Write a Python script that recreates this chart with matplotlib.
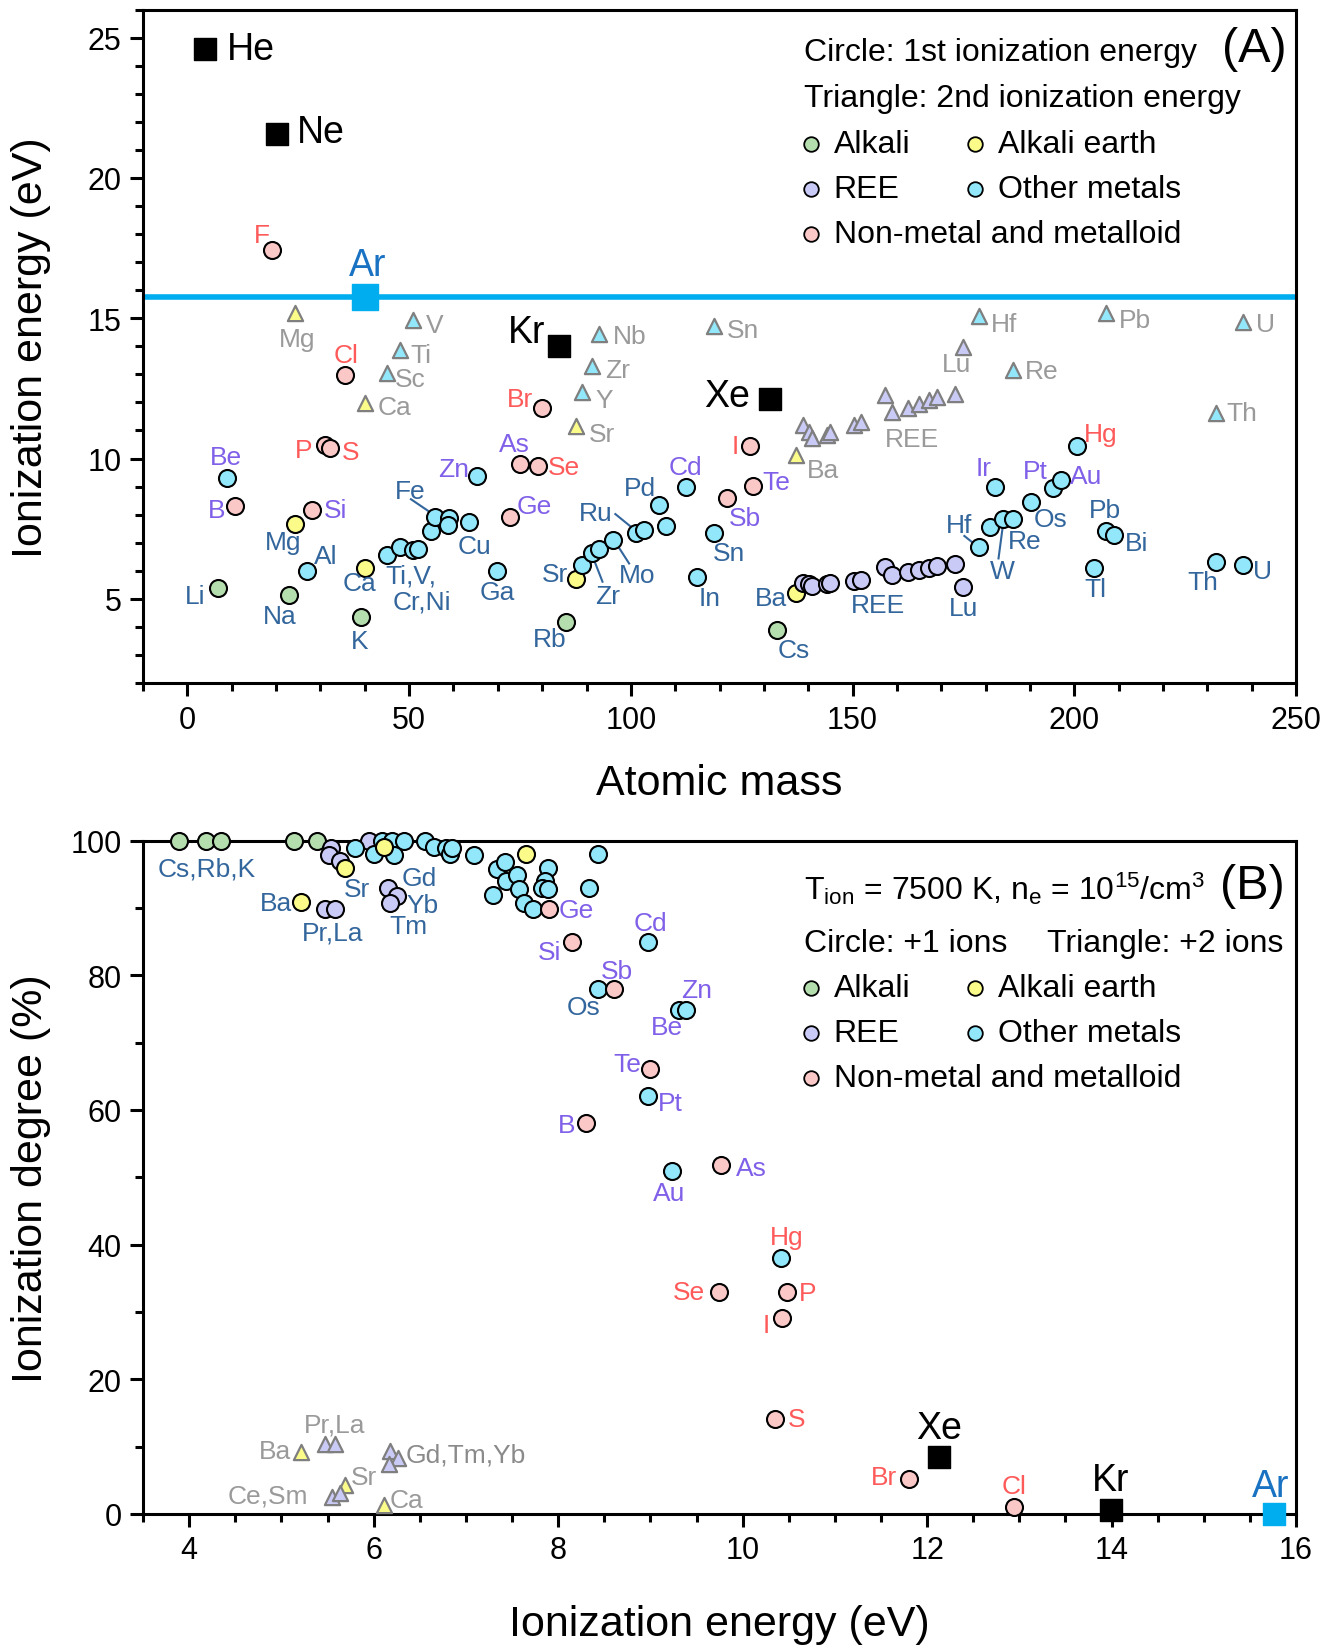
import matplotlib
matplotlib.use('Agg')
import matplotlib.pyplot as plt
from matplotlib.ticker import MultipleLocator

plt.rcParams['font.family'] = ['Liberation Sans', 'DejaVu Sans']
plt.rcParams['mathtext.fontset'] = 'custom'
plt.rcParams['mathtext.rm'] = 'Liberation Sans'
plt.rcParams['mathtext.it'] = 'Liberation Sans'

# ---------------- Panel A data: atomic mass vs ionization energy ----------------
# 1st ionization energy (circles)
a_alk_mass = [6.94, 22.99, 39.10, 85.47, 132.91]
a_alk_ie = [5.39, 5.14, 4.34, 4.18, 3.89]

a_ear_mass = [24.31, 40.08, 87.62, 137.33]
a_ear_ie = [7.65, 6.11, 5.69, 5.21]

a_ree_mass = [138.91, 140.12, 140.91, 144.24, 145.0, 150.36, 151.96, 157.25,
              158.93, 162.50, 164.93, 167.26, 168.93, 173.05, 174.97]
a_ree_ie = [5.58, 5.54, 5.47, 5.53, 5.58, 5.64, 5.67, 6.15,
            5.86, 5.94, 6.02, 6.11, 6.18, 6.25, 5.43]

a_oth_mass = [9.01, 26.98, 44.96, 47.87, 50.94, 52.00, 54.94, 55.85, 58.93, 58.69,
              63.55, 65.38, 69.72, 88.91, 91.22, 92.91, 95.95, 101.07, 102.91, 106.42,
              107.87, 112.41, 114.82, 118.71, 178.49, 180.95, 183.84, 186.21, 190.23,
              182.0, 195.08, 196.97, 200.59, 204.38, 207.2, 208.98, 232.04, 238.03]
a_oth_ie = [9.32, 5.99, 6.56, 6.83, 6.75, 6.77, 7.43, 7.90, 7.88, 7.64,
            7.73, 9.39, 6.00, 6.22, 6.63, 6.76, 7.09, 7.36, 7.46, 8.34,
            7.58, 8.99, 5.79, 7.34, 6.83, 7.55, 7.86, 7.83, 8.44,
            8.97, 8.96, 9.23, 10.44, 6.11, 7.42, 7.29, 6.31, 6.19]

a_non_mass = [10.81, 19.00, 28.09, 30.97, 32.06, 35.45, 72.63, 74.92, 78.97, 79.90,
              121.76, 127.60, 126.90]
a_non_ie = [8.30, 17.42, 8.15, 10.49, 10.36, 12.97, 7.90, 9.79, 9.75, 11.81,
            8.61, 9.01, 10.45]

# 2nd ionization energy (triangles)
a2_ear_mass = [24.31, 40.08, 87.62, 137.33]
a2_ear_ie = [15.19, 11.99, 11.17, 10.11]

a2_ree_mass = a_ree_mass
a2_ree_ie = [11.2, 10.95, 10.73, 10.85, 10.95, 11.2, 11.3, 12.26,
             11.65, 11.8, 11.95, 12.07, 12.18, 12.29, 13.98]

a2_oth_mass = [44.96, 47.87, 50.94, 88.91, 91.22, 92.91, 118.71, 178.49, 186.21,
               207.2, 232.04, 238.03]
a2_oth_ie = [13.05, 13.87, 14.92, 12.37, 13.3, 14.44, 14.74, 15.07, 13.16,
             15.19, 11.62, 14.85]

# noble gases
a_gas_names = ['He', 'Ne', 'Kr', 'Xe']
a_gas_mass = [4.00, 20.18, 83.80, 131.29]
a_gas_ie = [24.59, 21.56, 14.00, 12.13]
ar_mass = 39.95
ar_ie = 15.76

# ---------------- Panel B data: ionization energy vs ionization degree ----------------
b_alk_ie = [3.89, 4.18, 4.34, 5.14, 5.39]
b_alk_deg = [100, 100, 100, 100, 100]

b_ear_ie = [5.21, 5.69, 6.11, 7.65]
b_ear_deg = [90.9, 96.0, 99.0, 98.0]

b_ree_ie = [5.54, 5.52, 5.64, 5.95, 5.47, 5.58, 6.15, 6.25, 6.18]
b_ree_deg = [98.9, 97.8, 97.0, 100, 89.9, 89.9, 92.9, 91.8, 90.8]

b_oth_ie = [5.80, 6.00, 6.09, 6.20, 6.33, 6.22, 6.56, 6.65, 6.78, 6.83, 6.85, 7.09,
            7.34, 7.42, 7.44, 7.55, 7.58, 7.29, 7.63, 7.73, 7.89, 7.86, 7.82, 7.89,
            8.43, 8.33, 8.97, 8.43, 9.31, 9.39, 8.97, 9.23, 10.42]
b_oth_deg = [98.9, 98.0, 100, 100, 100, 97.8, 100, 99.0, 98.9, 98.0, 98.9, 97.9,
             95.8, 96.9, 94.0, 94.9, 92.8, 92.0, 90.8, 89.8, 96.0, 94.0, 93.0, 92.8,
             98.0, 93.0, 84.9, 77.9, 74.9, 74.9, 62.0, 50.9, 38.0]

b_non_ie = [7.90, 8.15, 8.61, 9.00, 8.30, 9.77, 9.74, 10.48, 10.43, 10.35, 11.80, 12.94]
b_non_deg = [89.8, 84.9, 77.9, 66.1, 58.0, 51.9, 33.0, 33.0, 29.1, 14.1, 5.2, 1.1]

# +2 ions (triangles)
b2_ear_ie = [5.21, 5.69, 6.11]
b2_ear_deg = [9.2, 4.3, 1.3]
b2_ree_ie = [5.47, 5.58, 6.18, 6.26, 6.17, 5.55, 5.64]
b2_ree_deg = [10.4, 10.4, 9.4, 8.3, 7.4, 2.5, 3.1]

# noble gases
b_gas_ie = [12.13, 13.99]
b_gas_deg = [8.4, 0.6]
b_ar_ie = 15.76
b_ar_deg = 0.0

# ---------------- colours ----------------
C_ALK = '#b5deaf'
C_EAR = '#fbfb8a'
C_REE = '#cacaf7'
C_OTH = '#92e7fb'
C_NON = '#fbc8c8'
L_BLUE = '#33669c'
L_PURP = '#8060e8'
L_RED = '#ff5a5a'
L_GREY = '#9a9a9a'
AR_LINE = '#00aeef'
AR_TEXT = '#1a72c2'

# ---------------- labels (text, x, y, colour) ----------------
labels_A = [
    ('F', 16.8, 17.97, L_RED), ('Cl', 35.8, 13.68, L_RED), ('P', 26.3, 10.30, L_RED),
    ('S', 36.8, 10.23, L_RED), ('Br', 75.0, 12.11, L_RED), ('As', 73.8, 10.53, L_PURP),
    ('Se', 85.0, 9.70, L_RED), ('I', 123.6, 10.45, L_RED), ('Hg', 206.0, 10.86, L_RED),
    ('Be', 8.8, 10.04, L_PURP), ('B', 6.6, 8.16, L_PURP), ('Si', 33.5, 8.16, L_PURP),
    ('Mg', 21.6, 7.03, L_BLUE), ('Al', 31.1, 6.54, L_BLUE), ('Li', 1.7, 5.11, L_BLUE),
    ('Na', 20.9, 4.40, L_BLUE), ('K', 38.9, 3.50, L_BLUE), ('Ca', 38.7, 5.56, L_BLUE),
    ('Ti,V,', 50.5, 5.83, L_BLUE), ('Cr,Ni', 52.9, 4.92, L_BLUE), ('Fe', 50.3, 8.83, L_BLUE),
    ('Zn', 60.0, 9.62, L_PURP), ('Cu', 64.8, 6.88, L_BLUE), ('Ga', 69.8, 5.26, L_BLUE),
    ('Ge', 78.1, 8.31, L_PURP), ('Rb', 81.6, 3.57, L_BLUE), ('Sr', 82.8, 5.90, L_BLUE),
    ('Zr', 94.7, 5.11, L_BLUE), ('Mo', 101.3, 5.86, L_BLUE), ('Ru', 92.1, 8.05, L_BLUE),
    ('Pd', 102.0, 8.95, L_BLUE), ('Cd', 112.2, 9.70, L_PURP), ('Sn', 122.2, 6.62, L_BLUE),
    ('In', 117.7, 5.04, L_BLUE), ('Sb', 125.8, 7.89, L_PURP), ('Te', 132.7, 9.17, L_PURP),
    ('Ba', 131.5, 5.04, L_BLUE), ('Cs', 136.7, 3.16, L_BLUE), ('REE', 155.7, 4.77, L_BLUE),
    ('Lu', 175.1, 4.66, L_BLUE), ('Hf', 173.9, 7.63, L_BLUE), ('W', 183.7, 5.98, L_BLUE),
    ('Re', 188.7, 7.07, L_BLUE), ('Os', 194.6, 7.86, L_BLUE), ('Ir', 179.6, 9.66, L_PURP),
    ('Pt', 191.3, 9.55, L_PURP), ('Au', 202.7, 9.36, L_PURP), ('Pb', 206.9, 8.16, L_BLUE),
    ('Bi', 214.0, 6.99, L_BLUE), ('Tl', 204.8, 5.34, L_BLUE), ('Th', 229.0, 5.60, L_BLUE),
    ('U', 242.5, 5.98, L_BLUE),
    # 2nd ionization labels
    ('Mg', 24.7, 14.25, L_GREY), ('V', 55.8, 14.77, L_GREY), ('Ti', 52.7, 13.68, L_GREY),
    ('Sc', 50.3, 12.82, L_GREY), ('Ca', 46.7, 11.84, L_GREY), ('Nb', 99.7, 14.36, L_GREY),
    ('Zr', 97.1, 13.16, L_GREY), ('Y', 94.0, 12.07, L_GREY), ('Sr', 93.5, 10.86, L_GREY),
    ('Sn', 125.3, 14.59, L_GREY), ('Ba', 143.3, 9.59, L_GREY), ('REE', 163.3, 10.68, L_GREY),
    ('Lu', 173.5, 13.38, L_GREY), ('Hf', 184.1, 14.81, L_GREY), ('Re', 192.7, 13.12, L_GREY),
    ('Pb', 213.6, 14.92, L_GREY), ('U', 243.0, 14.81, L_GREY), ('Th', 237.8, 11.62, L_GREY),
]
big_labels_A = [('He', 14.2, 24.59), ('Ne', 30.1, 21.62), ('Kr', 76.4, 14.51), ('Xe', 121.7, 12.22)]
ar_label_A = ('Ar', 40.6, 16.88)

leaders_A = [  # (x0, x1, y0, y1)
    (50.4, 54.5, 8.55, 8.11), (91.7, 93.6, 6.38, 5.61), (97.2, 99.6, 6.85, 6.26),
    (96.5, 100.0, 8.02, 7.57), (175.2, 177.1, 7.24, 7.0), (182.9, 183.8, 6.44, 7.51),
]

labels_B = [
    ('Cs,Rb,K', 4.19, 95.9, L_BLUE), ('Ba', 4.94, 90.8, L_BLUE), ('Sr', 5.82, 92.8, L_BLUE),
    ('Pr,La', 5.55, 86.4, L_BLUE), ('Gd', 6.49, 94.4, L_BLUE), ('Yb', 6.53, 90.5, L_BLUE),
    ('Tm', 6.38, 87.3, L_BLUE), ('Ge', 8.20, 89.7, L_PURP), ('Si', 7.91, 83.4, L_PURP),
    ('Cd', 9.0, 87.8, L_PURP), ('Sb', 8.64, 80.6, L_PURP), ('Os', 8.28, 75.3, L_BLUE),
    ('Zn', 9.50, 77.8, L_PURP), ('Be', 9.18, 72.3, L_PURP), ('Te', 8.75, 66.9, L_PURP),
    ('Pt', 9.22, 61.1, L_PURP), ('B', 8.09, 57.7, L_PURP), ('As', 10.10, 51.4, L_PURP),
    ('Au', 9.20, 47.7, L_PURP), ('Hg', 10.48, 41.1, L_RED), ('Se', 9.42, 33.0, L_RED),
    ('P', 10.70, 32.8, L_RED), ('I', 10.26, 28.0, L_RED), ('S', 10.59, 14.1, L_RED),
    ('Br', 11.53, 5.5, L_RED), ('Cl', 12.94, 4.2, L_RED),
    ('Pr,La', 5.58, 13.3, L_GREY), ('Ba', 4.93, 9.4, L_GREY), ('Sr', 5.89, 5.5, L_GREY),
    ('Ce,Sm', 4.85, 2.7, L_GREY), ('Ca', 6.36, 2.0, L_GREY),
]
big_labels_B = [('Xe', 12.13, 12.8), ('Kr', 13.99, 5.0)]
ar_label_B = ('Ar', 15.72, 4.2)

# ---------------- figure ----------------
fig = plt.figure(figsize=(13.37, 16.49), dpi=100)
axA = fig.add_axes([0.1070, 0.5852, 0.8624, 0.4084])
axB = fig.add_axes([0.1070, 0.0813, 0.8624, 0.4083])

CS = 150      # circle marker area
TS = 120      # triangle marker area
LFS = 19      # element label font size
BFS = 27      # noble gas label font size
GFS = 23      # legend font size


def style(ax):
    for sp in ax.spines.values():
        sp.set_linewidth(2.2)
        sp.set_zorder(2)
    ax.tick_params(which='major', direction='out', length=9.5, width=2.2,
                   labelsize=22, pad=6)
    ax.tick_params(which='minor', direction='out', length=6, width=2.2)


def circ(ax, x, y, c):
    ax.scatter(x, y, s=CS, c=c, edgecolors='black', linewidths=1.5, zorder=4, clip_on=False)


def tri(ax, x, y, c):
    ax.scatter(x, y, s=TS, marker='^', c=c, edgecolors='#7f7f7f', linewidths=1.6,
               zorder=3, clip_on=False)


def axis_labels(ax, xl, yl, xlab_y):
    ax.set_xlabel(xl, fontsize=31)
    ax.set_ylabel(yl, fontsize=31)
    ax.xaxis.set_label_coords(0.5, xlab_y)
    ax.xaxis.label.set_verticalalignment('center')
    ax.yaxis.set_label_coords(-0.097, 0.5)
    ax.yaxis.label.set_verticalalignment('center')


# ----- Panel A -----
style(axA)
axA.set_xlim(-10, 250)
axA.set_ylim(2, 26)
axA.xaxis.set_major_locator(MultipleLocator(50))
axA.xaxis.set_minor_locator(MultipleLocator(10))
axA.yaxis.set_major_locator(MultipleLocator(5))
axA.yaxis.set_minor_locator(MultipleLocator(1))
axis_labels(axA, 'Atomic mass', 'Ionization energy (eV)', -0.148)

axA.axhline(ar_ie, color=AR_LINE, lw=4, zorder=2)
tri(axA, a2_ear_mass, a2_ear_ie, C_EAR)
tri(axA, a2_ree_mass, a2_ree_ie, C_REE)
tri(axA, a2_oth_mass, a2_oth_ie, C_OTH)
circ(axA, a_alk_mass, a_alk_ie, C_ALK)
circ(axA, a_ear_mass, a_ear_ie, C_EAR)
circ(axA, a_ree_mass, a_ree_ie, C_REE)
circ(axA, a_oth_mass, a_oth_ie, C_OTH)
circ(axA, a_non_mass, a_non_ie, C_NON)
axA.scatter(a_gas_mass, a_gas_ie, s=230, marker='s', c='black', zorder=4)
axA.scatter([ar_mass], [ar_ie], s=350, marker='s', c=AR_LINE, zorder=5)

for t, x, y, c in labels_A:
    axA.text(x, y, t, color=c, fontsize=LFS, ha='center', va='center', zorder=6)
for t, x, y in big_labels_A:
    axA.text(x, y, t, color='black', fontsize=BFS, ha='center', va='center', zorder=6)
axA.text(ar_label_A[1], ar_label_A[2], ar_label_A[0], color=AR_TEXT, fontsize=BFS,
         ha='center', va='center', zorder=6)
for x0, x1, y0, y1 in leaders_A:
    axA.plot([x0, x1], [y0, y1], color=L_BLUE, lw=1.5, zorder=3)

# legend A
tA = axA.transAxes
axA.text(0.573, 0.9375, 'Circle: 1st ionization energy', transform=tA, fontsize=GFS,
         ha='left', va='center')
axA.text(0.9636, 0.942, '(A)', transform=tA, fontsize=35, ha='center', va='center')
axA.text(0.573, 0.8687, 'Triangle: 2nd ionization energy', transform=tA, fontsize=GFS,
         ha='left', va='center')
leg_items_A = [(0.5794, 0.800, C_ALK, 'Alkali'), (0.7218, 0.800, C_EAR, 'Alkali earth'),
               (0.5794, 0.733, C_REE, 'REE'), (0.7218, 0.733, C_OTH, 'Other metals'),
               (0.5794, 0.666, C_NON, 'Non-metal and metalloid')]
for x, y, c, t in leg_items_A:
    axA.scatter([x], [y], s=110, c=c, edgecolors='black', linewidths=1.3, transform=tA,
                zorder=6, clip_on=False)
    axA.text(x + 0.0195, y, t, transform=tA, fontsize=GFS, ha='left', va='center')

# ----- Panel B -----
style(axB)
axB.set_xlim(3.5, 16)
axB.set_ylim(0, 100)
axB.xaxis.set_major_locator(MultipleLocator(2))
axB.xaxis.set_minor_locator(MultipleLocator(0.5))
axB.yaxis.set_major_locator(MultipleLocator(20))
axB.yaxis.set_minor_locator(MultipleLocator(10))
axis_labels(axB, 'Ionization energy (eV)', 'Ionization degree (%)', -0.164)

tri(axB, b2_ear_ie, b2_ear_deg, C_EAR)
tri(axB, b2_ree_ie, b2_ree_deg, C_REE)
circ(axB, b_alk_ie, b_alk_deg, C_ALK)
circ(axB, b_ree_ie, b_ree_deg, C_REE)
circ(axB, b_oth_ie, b_oth_deg, C_OTH)
circ(axB, b_ear_ie, b_ear_deg, C_EAR)
circ(axB, b_non_ie, b_non_deg, C_NON)
axB.scatter(b_gas_ie, b_gas_deg, s=250, marker='s', c='black', zorder=5, clip_on=False)
axB.scatter([b_ar_ie], [b_ar_deg], s=260, marker='s', c=AR_LINE, zorder=5, clip_on=False)

for t, x, y, c in labels_B:
    axB.text(x, y, t, color=c, fontsize=LFS, ha='center', va='center', zorder=6)
axB.text(6.35, 8.9, 'Gd,Tm,Yb', color='#8a8a8a', fontsize=LFS, ha='left', va='center', zorder=6)
for t, x, y in big_labels_B:
    axB.text(x, y, t, color='black', fontsize=BFS, ha='center', va='center', zorder=6)
axB.text(ar_label_B[1], ar_label_B[2], ar_label_B[0], color=AR_TEXT, fontsize=BFS,
         ha='center', va='center', zorder=6)

tB = axB.transAxes
axB.text(0.573, 0.9296, r'T$_{\rm ion}$ = 7500 K, n$_{\rm e}$ = 10$^{15}$/cm$^{3}$',
         transform=tB, fontsize=GFS, ha='left', va='center')
axB.text(0.9617, 0.9329, '(B)', transform=tB, fontsize=35, ha='center', va='center')
axB.text(0.573, 0.8485, 'Circle: +1 ions', transform=tB, fontsize=GFS, ha='left', va='center')
axB.text(0.7838, 0.8485, 'Triangle: +2 ions', transform=tB, fontsize=GFS, ha='left', va='center')
leg_items_B = [(0.5794, 0.7812, C_ALK, 'Alkali'), (0.7218, 0.7812, C_EAR, 'Alkali earth'),
               (0.5794, 0.7141, C_REE, 'REE'), (0.7218, 0.7141, C_OTH, 'Other metals'),
               (0.5794, 0.6469, C_NON, 'Non-metal and metalloid')]
for x, y, c, t in leg_items_B:
    axB.scatter([x], [y], s=110, c=c, edgecolors='black', linewidths=1.3, transform=tB,
                zorder=6, clip_on=False)
    axB.text(x + 0.0195, y, t, transform=tB, fontsize=GFS, ha='left', va='center')

fig.savefig('out.png', dpi=100)
